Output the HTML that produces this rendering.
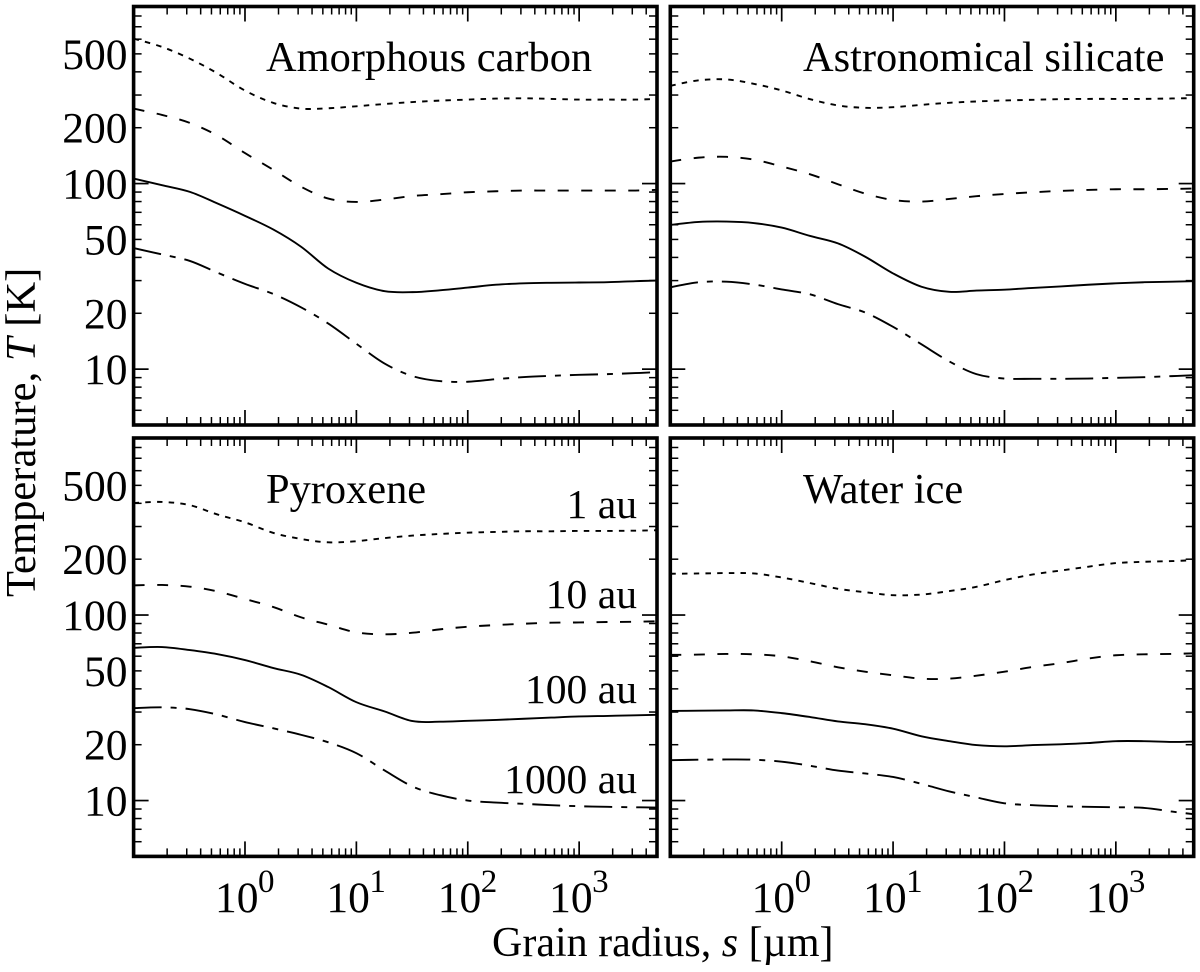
<!DOCTYPE html>
<html lang="en">
<head>
<meta charset="utf-8">
<title>Grain temperature versus radius</title>
<style>
html,body{margin:0;padding:0;background:#fff;}
svg{display:block;}
text{font-family:"Liberation Serif",serif;font-size:42.4px;fill:#000;}
</style>
</head>
<body>
<svg id="chart" xmlns="http://www.w3.org/2000/svg" width="1200" height="972" viewBox="0 0 1200 972">
<rect x="0" y="0" width="1200" height="972" fill="#fff"/>
<g id="marks"></g>
<text x="492" y="956" style="font-size:42px">Grain radius, <tspan font-style="italic">s</tspan> [µm]</text>
<text transform="translate(35,597) rotate(-90)" x="0" y="0" style="font-size:42.6px">Temperature, <tspan font-style="italic">T</tspan> [K]</text>
<text x="637" y="518" text-anchor="end" style="font-size:41.6px">1 au</text>
<text x="637" y="608" text-anchor="end" style="font-size:41.6px">10 au</text>
<text x="637" y="703" text-anchor="end" style="font-size:41.6px">100 au</text>
<text x="637" y="793" text-anchor="end" style="font-size:41.6px">1000 au</text>
</svg>
<script>
// Grain radius samples (micrometres), shared by every curve
const grainRadius = [0.1, 0.18, 0.32, 0.56, 1, 1.8, 3.2, 5.6, 10, 18, 32, 56, 100, 180, 320, 560, 1000, 1800, 3200, 5000];

// Amorphous carbon temperatures (K)
const carbon1au = [604, 545, 471, 394, 317, 272, 253.5, 254.6, 261, 268.5, 275, 280, 283.5, 287, 288, 286, 283.5, 283.5, 283.5, 286];
const carbon10au = [253.5, 234.4, 212.3, 182, 146, 118.5, 96, 83, 79.6, 82, 85.8, 87.6, 89.8, 90.9, 91.7, 91.7, 91.7, 91.7, 91.7, 92.5];
const carbon100au = [106.4, 98, 90.2, 78.3, 67, 56.5, 45.6, 34.8, 29.2, 26.3, 26, 26.6, 27.5, 28.5, 29, 29.2, 29.3, 29.4, 29.8, 30];
const carbon1000au = [44.9, 41.5, 38.3, 33.2, 28.8, 25.4, 21.5, 17.6, 13.7, 10.7, 9.17, 8.62, 8.55, 8.83, 9.06, 9.2, 9.32, 9.4, 9.52, 9.63];

// Astronomical silicate temperatures (K)
const silicate1au = [336.5, 360, 364, 345, 317.6, 285, 263.6, 256, 258, 265.7, 272.5, 277, 280.5, 282.8, 285, 286, 286, 286, 287.5, 288.7];
const silicate10au = [131.5, 138, 139.3, 134.7, 123.6, 112.2, 99.2, 88.3, 81.6, 80, 82.6, 85.5, 87.9, 89.8, 91.3, 92.4, 93.2, 93.2, 93.6, 94];
const silicate100au = [59.8, 62.1, 62.4, 61.3, 57.9, 52.2, 47.6, 40.4, 32.8, 27.8, 26.1, 26.5, 26.8, 27.4, 27.9, 28.5, 29, 29.4, 29.6, 29.8];
const silicate1000au = [27.6, 29.4, 29.6, 28.6, 26.9, 25.3, 22.4, 20.2, 16.9, 13.6, 11, 9.4, 8.9, 8.87, 8.87, 8.9, 8.98, 9.05, 9.17, 9.28];

// Pyroxene temperatures (K)
const pyroxene1au = [402, 407, 391, 349, 316, 277, 257, 246.6, 250, 260, 268, 273.5, 278, 280.5, 282.8, 282.8, 284, 284, 285, 286.4];
const pyroxene10au = [144.5, 145.2, 142.2, 134.2, 122, 110.4, 97.1, 88.7, 80.6, 78.7, 80.3, 83.7, 86.5, 88.3, 89.8, 90.9, 91.2, 91.7, 92, 92.5];
const pyroxene100au = [66.6, 67.2, 64.7, 61.6, 57.2, 51.8, 47.6, 40.9, 33.9, 30.2, 26.8, 26.6, 26.9, 27.2, 27.6, 28, 28.4, 28.6, 28.8, 29];
const pyroxene1000au = [31.5, 31.8, 31.1, 29.1, 26.5, 24.5, 22.6, 20.6, 18, 14.5, 11.9, 10.7, 10, 9.75, 9.6, 9.44, 9.32, 9.25, 9.2, 9.17];

// Water ice temperatures (K)
const ice1au = [166.9, 167.5, 168.3, 167.5, 159.4, 148.6, 138.5, 132.8, 127.9, 129, 134.6, 141.9, 154.2, 165.5, 173.8, 182, 190.5, 193.6, 195.3, 197.7];
const ice10au = [61, 61.2, 61.7, 61.4, 59.9, 56.3, 52.3, 49.5, 47.3, 45.4, 45.4, 47.1, 49.5, 52.5, 55, 58.2, 60.7, 61.4, 61.7, 62.2];
const ice100au = [30.4, 30.5, 30.6, 30.6, 29.6, 28.2, 26.7, 25.8, 24.4, 22.2, 20.9, 19.9, 19.6, 19.9, 20.1, 20.4, 20.9, 20.9, 20.7, 20.8];
const ice1000au = [16.5, 16.6, 16.65, 16.6, 16.2, 15.4, 14.5, 14, 13.4, 12.3, 11.2, 10.4, 9.67, 9.44, 9.32, 9.25, 9.2, 9.13, 8.72, 8.44];

// Tick labels and tick values
const yTickLabels = [10, 20, 50, 100, 200, 500];
const yMajorTicks = [10, 100];
const yMinorTicks = [6, 7, 8, 9, 20, 30, 40, 50, 60, 70, 80, 90, 200, 300, 400, 500, 600, 700, 800];
const xTickExponents = [0, 1, 2, 3];
const xMajorTicks = [1, 10, 100, 1000];
const xMinorTicks = [0.2, 0.3, 0.4, 0.5, 0.6, 0.7, 0.8, 0.9, 2, 3, 4, 5, 6, 7, 8, 9, 20, 30, 40, 50, 60, 70, 80, 90, 200, 300, 400, 500, 600, 700, 800, 900, 2000, 3000, 4000];
const xDomain = [0.1, 5000];
const yDomain = [5, 900];

const panels = [
  {key: 'amorphous-carbon', title: 'Amorphous carbon', x0: 133.6, x1: 657, y0: 6.5, y1: 425, titleX: 266, titleY: 71, leftLabels: true, bottomLabels: false, series: [carbon1au, carbon10au, carbon100au, carbon1000au]},
  {key: 'astronomical-silicate', title: 'Astronomical silicate', x0: 670.3, x1: 1193.7, y0: 6.5, y1: 425, titleX: 803, titleY: 71, leftLabels: false, bottomLabels: false, series: [silicate1au, silicate10au, silicate100au, silicate1000au]},
  {key: 'pyroxene', title: 'Pyroxene', x0: 133.6, x1: 657, y0: 438, y1: 856.4, titleX: 266, titleY: 503, leftLabels: true, bottomLabels: true, series: [pyroxene1au, pyroxene10au, pyroxene100au, pyroxene1000au]},
  {key: 'water-ice', title: 'Water ice', x0: 670.3, x1: 1193.7, y0: 438, y1: 856.4, titleX: 803, titleY: 503, leftLabels: false, bottomLabels: true, series: [ice1au, ice10au, ice100au, ice1000au]}
];
const seriesNames = ['1au', '10au', '100au', '1000au'];
const seriesDashes = ['5.5 6.2', '11 12.5', '', '28 9 6 9'];

const NS = 'http://www.w3.org/2000/svg';
const root = document.getElementById('marks');

function make(tag, parent, attrs) {
  const el = document.createElementNS(NS, tag);
  for (const k in attrs) el.setAttribute(k, attrs[k]);
  parent.appendChild(el);
  return el;
}

// Catmull-Rom smoothing through the scaled sample points
function smoothPath(pts) {
  let d = 'M' + pts[0][0].toFixed(2) + ' ' + pts[0][1].toFixed(2);
  for (let i = 0; i < pts.length - 1; i++) {
    const a = pts[Math.max(i - 1, 0)], b = pts[i], c = pts[i + 1], e = pts[Math.min(i + 2, pts.length - 1)];
    const c1x = b[0] + (c[0] - a[0]) / 6, c1y = b[1] + (c[1] - a[1]) / 6;
    const c2x = c[0] - (e[0] - b[0]) / 6, c2y = c[1] - (e[1] - b[1]) / 6;
    d += 'C' + c1x.toFixed(2) + ' ' + c1y.toFixed(2) + ' ' + c2x.toFixed(2) + ' ' + c2y.toFixed(2) + ' ' + c[0].toFixed(2) + ' ' + c[1].toFixed(2);
  }
  return d;
}

panels.forEach(function (p) {
  const xScale = function (v) {
    const a = Math.log10(xDomain[0]), b = Math.log10(xDomain[1]);
    return p.x0 + (Math.log10(v) - a) / (b - a) * (p.x1 - p.x0);
  };
  const yScale = function (v) {
    const a = Math.log10(yDomain[0]), b = Math.log10(yDomain[1]);
    return p.y1 - (Math.log10(v) - a) / (b - a) * (p.y1 - p.y0);
  };

  const group = make('g', root, {});
  
  

  p.series.forEach(function (values, i) {
    const pts = values.map(function (v, j) {
      return [xScale(grainRadius[j]), yScale(v)];
    });
    const line = make('path', group, {d: smoothPath(pts), fill: 'none', stroke: '#000', 'stroke-width': 1.9, 'stroke-linejoin': 'round'});
    if (seriesDashes[i]) line.setAttribute('stroke-dasharray', seriesDashes[i]);
    
    
  });

  const tickGroup = make('g', group, {stroke: '#000', fill: 'none'});
  
  

  const drawX = function (v, len, w) {
    const x = xScale(v);
    const bottomTick = make('line', tickGroup, {x1: x, x2: x, y1: p.y1, y2: p.y1 - len, 'stroke-width': w});
    
    
    const topTick = make('line', tickGroup, {x1: x, x2: x, y1: p.y0, y2: p.y0 + len, 'stroke-width': w});
    
    
  };
  const drawY = function (v, len, w) {
    const y = yScale(v);
    const leftTick = make('line', tickGroup, {x1: p.x0, x2: p.x0 + len, y1: y, y2: y, 'stroke-width': w});
    
    
    const rightTick = make('line', tickGroup, {x1: p.x1, x2: p.x1 - len, y1: y, y2: y, 'stroke-width': w});
    
    
  };
  xMajorTicks.forEach(function (v) { drawX(v, 15, 1.7); });
  xMinorTicks.forEach(function (v) { drawX(v, 8, 1.5); });
  yMajorTicks.forEach(function (v) { drawY(v, 15, 1.7); });
  yMinorTicks.forEach(function (v) { drawY(v, 8, 1.5); });

  const frame = make('rect', group, {x: p.x0, y: p.y0, width: p.x1 - p.x0, height: p.y1 - p.y0, fill: 'none', stroke: '#000', 'stroke-width': 3.6});
  
  

  const title = make('text', group, {x: p.titleX, y: p.titleY});
  title.textContent = p.title;
  
  

  if (p.leftLabels) {
    yTickLabels.forEach(function (v) {
      const label = make('text', group, {x: 127.5, y: yScale(v) + 15, 'text-anchor': 'end', style: 'font-size:43.5px'});
      label.textContent = String(v);
      
      
    });
  }
  if (p.bottomLabels) {
    xTickExponents.forEach(function (e) {
      const x = xScale(Math.pow(10, e));
      const label = make('text', group, {x: x - 30, y: 912, style: 'font-size:43.5px'});
      label.textContent = '10';
      
      
      const sup = make('text', group, {x: x + 13, y: 892, style: 'font-size:33px'});
      sup.textContent = String(e);
      
      
    });
  }
});
</script>
</body>
</html>
